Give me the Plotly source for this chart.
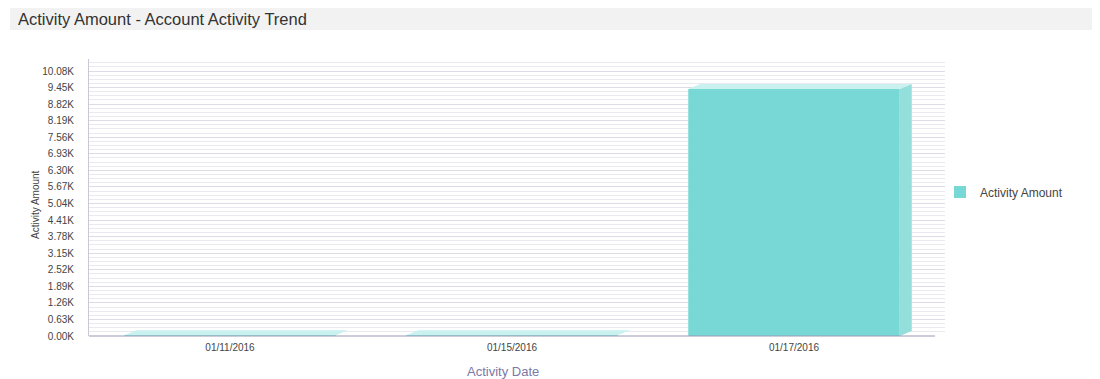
import plotly.graph_objects as go

# ---- data ----
dates = ["01/11/2016", "01/15/2016", "01/17/2016"]
amounts = [25, 30, 9400]
y_tick_values = [i * 630 for i in range(17)]
y_tick_labels = ["%.2fK" % (v / 1000) for v in y_tick_values]
series_name = "Activity Amount"
title_text = "Activity Amount - Account Activity Trend"
x_title = "Activity Date"
y_title = "Activity Amount"

# ---- layout geometry (page pixels; page body has an 8px margin) ----
O = 8
W, H = 1100 - O, 379 - O
axis_left, axis_bottom = 89, 336          # page px
top_label_y = 71                          # page px of 10.08K
wall_top, wall_right = 59, 945            # page px
L = axis_left - O
B = (379 - O) - (axis_bottom - O)
T = wall_top - O
R = W - (wall_right - O)
plot_w = W - L - R
plot_h = H - T - B

y_scale = (axis_bottom - top_label_y) / 10080.0   # px per unit
ymax = (axis_bottom - wall_top) / y_scale
cat_px = (935 - axis_left) / 3.0
xmax = 2.5 + (wall_right - 935) / cat_px

bar_w = 0.75
dx = 12 / cat_px            # depth offset in category units
dy = 5 / y_scale            # depth offset in data units

xs = list(range(len(dates)))

fig = go.Figure()

# front faces
fig.add_trace(go.Bar(
    x=xs, y=amounts, width=bar_w, name=series_name,
    marker=dict(color="#78d8d6", line=dict(width=0)),
    showlegend=True,
))

# side faces and top faces built from the data
for i, v in zip(xs, amounts):
    xr = i + bar_w / 2
    xl = i - bar_w / 2
    fig.add_trace(go.Scatter(
        x=[xr, xr + dx, xr + dx, xr, xr], y=[0, dy, v + dy, v, 0],
        fill="toself", fillcolor="#94dedc", mode="lines",
        line=dict(width=0), showlegend=False, hoverinfo="skip"))
    fig.add_trace(go.Scatter(
        x=[xl, xr, xr + dx, xl + dx, xl], y=[v, v, v + dy, v + dy, v],
        fill="toself", fillcolor="#c8f1ef", mode="lines",
        line=dict(width=0), showlegend=False, hoverinfo="skip"))

font_family = "Liberation Sans, Arial, sans-serif"

def px_x(p):
    return (p - O - L) / plot_w

def px_y(p):
    return (H - B - (p - O)) / plot_h

fig.update_layout(
    width=W, height=H,
    margin=dict(l=L, r=R, t=T, b=B, autoexpand=False),
    paper_bgcolor="white", plot_bgcolor="white",
    font=dict(family=font_family, color="#555555", size=10),
    legend=dict(x=px_x(940), y=px_y(192), xanchor="left",
                yanchor="middle", font=dict(size=12, color="#444444"),
                bgcolor="rgba(0,0,0,0)"),
    xaxis=dict(
        range=[-0.5, xmax], tickvals=xs, ticktext=dates,
        showgrid=False, zeroline=False, automargin=False,
        showline=False,
        ticks="", ticklabelstandoff=4,
        tickfont=dict(size=10, color="#444444"),
        fixedrange=True,
    ),
    yaxis=dict(
        range=[0, ymax], tickvals=y_tick_values, ticktext=y_tick_labels,
        showgrid=True, gridcolor="#dcdce6", gridwidth=1,
        minor=dict(dtick=157.5, showgrid=True, gridcolor="#e9e9f0", gridwidth=1),
        zeroline=False, showline=True, linecolor="#c8c8d8", automargin=False,
        tickfont=dict(size=10, color="#444444"),
        ticks="", ticklabelstandoff=12, fixedrange=True,
    ),
    shapes=[
        dict(type="rect", xref="paper", yref="paper",
             x0=px_x(10), x1=px_x(1100), y0=px_y(30), y1=px_y(8),
             fillcolor="#f2f2f2", line=dict(width=0), layer="below"),
        dict(type="line", xref="paper", yref="paper",
             x0=0, x1=px_x(935), y0=0, y1=0,
             line=dict(color="#9b9bb5", width=1)),
    ],
    annotations=[
        dict(text=title_text, xref="paper", yref="paper",
             x=px_x(16), y=px_y(19), xanchor="left", yanchor="middle",
             showarrow=False,
             font=dict(size=16.5, color="#333333", family=font_family)),
        dict(text=x_title, xref="paper", yref="paper",
             x=px_x(503), y=px_y(371), xanchor="center", yanchor="middle",
             showarrow=False,
             font=dict(size=13, color="#7a78a8", family=font_family)),
        dict(text=y_title, xref="paper", yref="paper", textangle=-90,
             x=px_x(36), y=px_y(205), xanchor="center", yanchor="middle",
             showarrow=False,
             font=dict(size=10, color="#444444", family=font_family)),
    ],
)

fig.write_html("out.html")
